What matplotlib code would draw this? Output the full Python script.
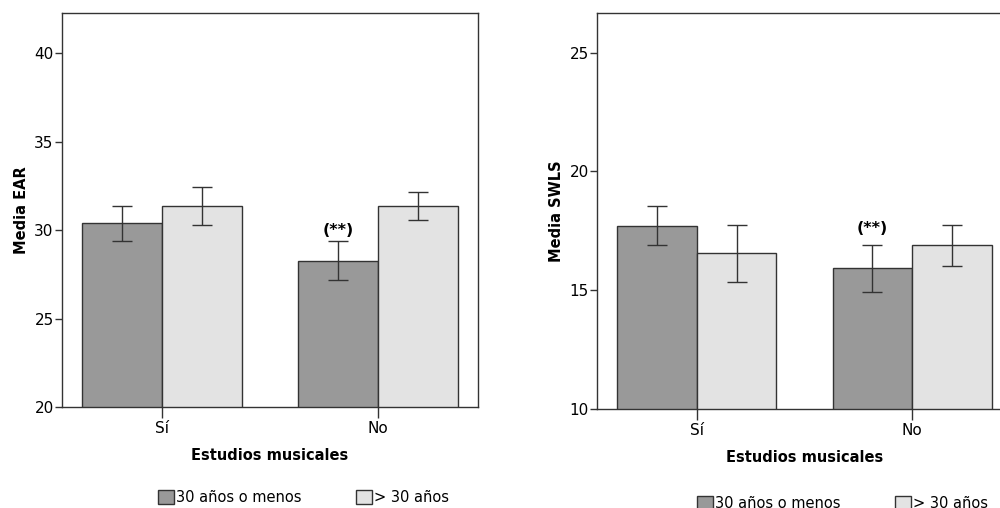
import matplotlib
matplotlib.use("Agg")
import matplotlib.pyplot as plt
from matplotlib.patches import Patch
import numpy as np

plt.rcParams['font.family'] = ['DejaVu Sans']

categories = ['Sí', 'No']
series_names = ['30 años o menos', '> 30 años']

# EAR
ear_means = [[30.38, 28.27], [31.36, 31.36]]
ear_low = [[29.40, 27.17], [30.28, 30.55]]
ear_high = [[31.37, 29.38], [32.41, 32.16]]

# SWLS
swls_means = [[17.72, 15.94], [16.56, 16.89]]
swls_low = [[16.89, 14.94], [15.36, 16.01]]
swls_high = [[18.56, 16.92], [17.73, 17.76]]

colors = ['#999999', '#e3e3e3']
edge = '#333333'


def draw_panel(ax, means, low, high, ylim, yticks, ylabel, star_y):
    x = np.arange(len(categories))
    w = 0.37
    for i in range(2):
        pos = x + (i - 0.5) * w
        m = np.array(means[i])
        err = [m - np.array(low[i]), np.array(high[i]) - m]
        ax.bar(pos, m, width=w, bottom=0, color=colors[i], edgecolor=edge, linewidth=1, zorder=2)
        ax.errorbar(pos, m, yerr=err, fmt='none', ecolor=edge, elinewidth=1,
                    capsize=7, capthick=1, zorder=3)
    ax.set_xlim(-0.463, 1.463)
    ax.set_ylim(*ylim)
    ax.set_yticks(yticks)
    ax.set_yticklabels([str(t) for t in yticks])
    ax.set_xticks(x)
    ax.set_xticklabels(categories)
    ax.tick_params(axis='y', direction='out', length=5, width=1, color=edge, labelsize=11, pad=1)
    ax.tick_params(axis='x', direction='out', length=8, width=1, color=edge, labelsize=11, pad=2)
    for s in ax.spines.values():
        s.set_color(edge)
        s.set_linewidth(1)
    ax.set_ylabel(ylabel, fontsize=10.5, fontweight='bold', labelpad=4)
    ax.set_xlabel('Estudios musicales', fontsize=10.5, fontweight='bold', labelpad=9)
    # marca de significacion sobre la barra oscura de "No"
    ax.text(1 - 0.5 * w, star_y, '(**)', ha='center', va='center', fontsize=11.5, fontweight='bold')


fig = plt.figure(figsize=(10, 5.08), dpi=100)
ax1 = fig.add_axes([0.062, 0.1988, 0.416, 0.7756])
ax2 = fig.add_axes([0.597, 0.1949, 0.415, 0.7795])

draw_panel(ax1, ear_means, ear_low, ear_high, (20, 42.26), [20, 25, 30, 35, 40], 'Media EAR', 30.0)
draw_panel(ax2, swls_means, swls_low, swls_high, (10, 26.67), [10, 15, 20, 25], 'Media SWLS', 17.6)

handles = [Patch(facecolor=colors[i], edgecolor=edge, linewidth=1) for i in range(2)]
for xa, ya in [(0.158, 1 - 497 / 508), (0.697, 1 - 503 / 508)]:
    fig.legend(handles, series_names, loc='center left', bbox_to_anchor=(xa, ya), ncol=2,
               frameon=False, handlelength=1.1, handleheight=1.1, handletextpad=0.15,
               columnspacing=3.7, fontsize=10.5, borderaxespad=0, borderpad=0)

fig.savefig('out.png', dpi=100)
